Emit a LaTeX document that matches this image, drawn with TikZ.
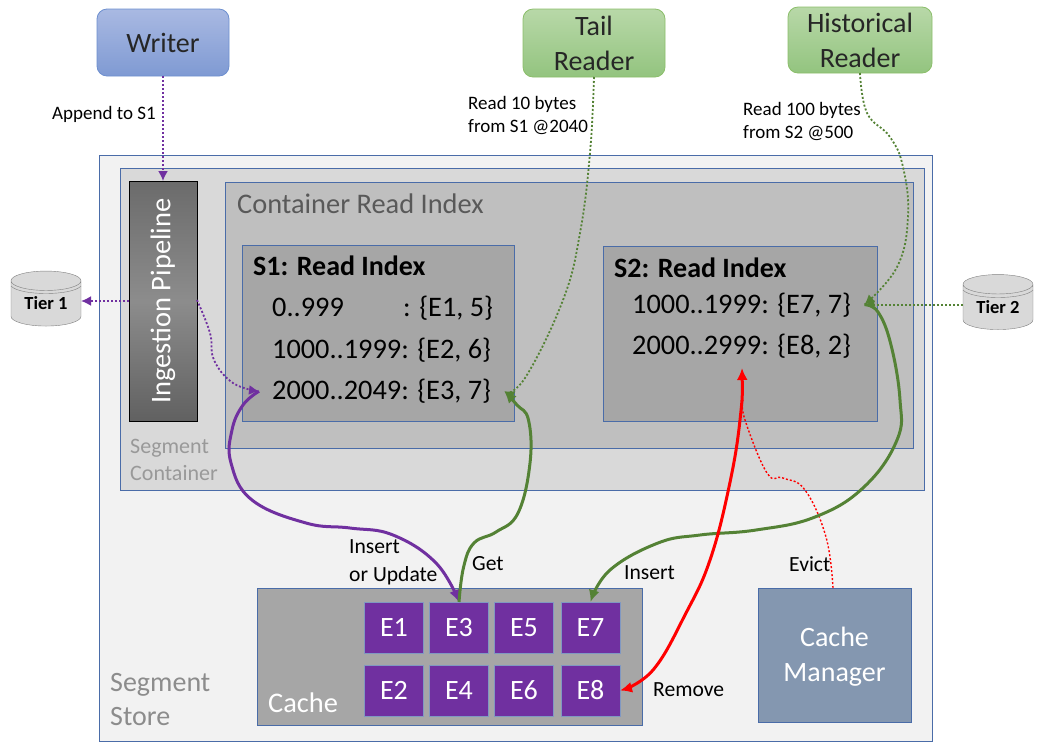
\documentclass[tikz,border=0pt]{standalone}
\usepackage{fontspec}
\setmainfont{Carlito}
\usetikzlibrary{positioning,shapes.geometric,arrows.meta}
\definecolor{frameblue}{HTML}{4A6CA8}
\definecolor{entrypurple}{HTML}{7030A0}
\definecolor{readgreen}{HTML}{548235}
\definecolor{writertop}{HTML}{A9B9E2}
\definecolor{writerbottom}{HTML}{7F9AD3}
\definecolor{writeredge}{HTML}{6D8FCF}
\definecolor{readertop}{HTML}{B8D8A8}
\definecolor{readerbottom}{HTML}{93C47F}
\definecolor{readeredge}{HTML}{8BBE6A}
\definecolor{managerblue}{HTML}{8497B0}
\tikzstyle{boxtext} = [font=\fontsize{28}{35}\selectfont,align=center]
\tikzstyle{smalltext} = [font=\fontsize{19}{23}\selectfont,align=left,anchor=west,inner sep=0]
\tikzstyle{flowtext} = [font=\fontsize{21.6}{27.5}\selectfont,align=left,anchor=west,inner sep=0]
\tikzstyle{region} = [draw=frameblue,line width=.8pt,inner sep=0,outer sep=0]
\tikzstyle{client} = [boxtext,text=black!85,rounded corners=10pt,inner sep=0,outer sep=0,line width=.8pt]
\tikzstyle{writerbox} = [client,draw=writeredge,top color=writertop,bottom color=writerbottom]
\tikzstyle{readerbox} = [client,draw=readeredge,top color=readertop,bottom color=readerbottom]
\tikzstyle{ecell} = [font=\fontsize{28}{35}\selectfont,text=white,fill=entrypurple,draw=frameblue!70,
                     minimum width=59pt,minimum height=51pt,inner sep=0,outer sep=0]
\tikzstyle{rowtext} = [font=\fontsize{28.3}{35}\selectfont,anchor=base west,inner xsep=13pt,inner ysep=0]
\tikzstyle{headtext} = [font=\fontsize{28.4}{35}\selectfont,anchor=base west,inner sep=0]
\tikzstyle{tier} = [cylinder,shape border rotate=90,aspect=.45,draw=gray,fill=gray!30,
                    minimum width=70pt,minimum height=55pt,inner sep=0,outer sep=0,
                    font=\fontsize{18.5}{22}\selectfont\bfseries]
\tikzstyle{dots} = [dash pattern=on 2pt off 2pt,line width=1.8pt,
                    >={Latex[length=10pt,width=10pt]}]
\tikzstyle{thick line} = [line width=3pt,>={Latex[length=12pt,width=11pt]}]

\begin{document}
\begin{tikzpicture}[
      x=1pt,
      y=-1pt,
      every plot/.style={smooth,tension=.7}]

     \useasboundingbox (0,0) rectangle (1040,748);

     \node[region,fill=gray!10,minimum width=833pt,minimum height=586pt] (store) at (515.5,448) {};
     \node[region,fill=gray!30,minimum width=804pt,minimum height=322pt] (container) at (522,329) {};
     \node[region,fill=gray!50,minimum width=688pt,minimum height=266pt] (readindex) at (569,315) {};
     \node[region,fill=gray!70,minimum width=272pt,minimum height=176pt] (sone) at (378,333) {};
     \node[region,fill=gray!70,minimum width=274pt,minimum height=175pt] (stwo) at (740,333.5) {};
     \node[draw=black,line width=.8pt,top color=black!58,bottom color=black!62,middle color=black!45,
           text=white,font=\fontsize{28.5}{35}\selectfont,inner sep=0,outer sep=0,
           minimum width=68pt,minimum height=240pt] (pipeline) at (163,301) {\rotatebox{90}{Ingestion Pipeline}};

     \node[writerbox,minimum width=132pt,minimum height=67pt] (writer) at (163,42.5) {Writer};
     \node[readerbox,minimum width=142pt,minimum height=68pt] (tail) at (594,43) {Tail\\Reader};
     \node[readerbox,minimum width=144pt,minimum height=66pt] (historical) at (860,40) {Historical\\Reader};

     \node[tier] (tierone) at (46,303.5) {\raisebox{-8pt}{Tier 1}};
     \node[tier] (tiertwo) at (998,307) {\raisebox{-8pt}{Tier 2}};
     \draw[gray] (11,286) .. controls (20,296) and (72,296) .. (81,286);
     \draw[gray] (963,290) .. controls (972,300) and (1024,300) .. (1033,290);

     \node[headtext,text=black!65] (readindexname) at (237,213) {Container Read Index};
     \node[headtext,font=\fontsize{28}{35}\selectfont\bfseries] (sonename) at (253,275) {S1: Read Index};
     \node[headtext,font=\fontsize{28}{35}\selectfont\bfseries] (stwoname) at (614,277) {S2: Read Index};
     \node[rowtext] (sonea) at (259,316) {\makebox[131pt][l]{0..999}: \{E1, 5\}};
     \node[rowtext] (soneb) at (259,358) {1000..1999: \{E2, 6\}};
     \node[rowtext] (sonec) at (259,399.5) {2000..2049: \{E3, 7\}};
     \node[rowtext] (stwoa) at (619,313) {1000..1999: \{E7, 7\}};
     \node[rowtext] (stwob) at (619,354) {2000..2999: \{E8, 2\}};

     \node[flowtext,font=\fontsize{22}{27}\selectfont,text=gray!80] (containername) at (130,459.5) {Segment\\Container};
     \node[flowtext,font=\fontsize{28}{34}\selectfont,text=gray!90] (storename) at (110,700) {Segment\\Store};

     \node[region,fill=gray!70,minimum width=385pt,minimum height=137pt] (cache) at (449.5,657) {};
     \node[headtext,text=white] (cachename) at (268,712) {Cache};
     \node[ecell] (eone) at (394,627.5) {E1};
     \node[ecell,right=6pt of eone] (ethree) {E3};
     \node[ecell,right=6pt of ethree] (efive) {E5};
     \node[ecell,right=7.5pt of efive] (eseven) {E7};
     \node[ecell,below=12pt of eone] (etwo) {E2};
     \node[ecell,right=6pt of etwo] (efour) {E4};
     \node[ecell,right=6pt of efour] (esix) {E6};
     \node[ecell,right=7.5pt of esix] (eeight) {E8};

     \node[region,boxtext,text=white,fill=managerblue,minimum width=153pt,minimum height=134pt] (manager) at (834.5,655) {\rule{0pt}{22pt}Cache\\Manager};

     \coordinate (evictend) at (743,400);
     \coordinate (removeend) at (742,368);

     \draw[->,dots,entrypurple] (writer) -- (pipeline);
     \draw[->,dots,entrypurple] (pipeline.west |- 0,301) -- (tierone.east |- 0,301);
     \draw[->,dots,entrypurple] plot coordinates {(pipeline.east |- 0,300) (210,333) (214,360) (233,383) (sonec.west)};
     \draw[->,dots,readgreen] plot coordinates {(tail.south) (590,153) (580,233) (563,300) (525,378) (sonec.east)};
     \draw[->,dots,readgreen] plot coordinates {(historical.south) (867,113) (890,137) (903,167) (908,217) (897,267) (stwoa.east)};
     \draw[->,dots,readgreen] (tiertwo.west |- stwoa.east) -- (stwoa.east);
     \draw[dots,line width=1.4pt,red] plot coordinates {(manager.north -| 833,0) (826,537) (805,490) (783,478) (767,473) (745,420) (evictend)};

     \draw[->,thick line,entrypurple] plot coordinates {(sonec.west) (243,405) (232,430) (231,463) (252,500) (306,523) (350,528) (393,535) (436,563) (ethree.north)};
     \draw[->,thick line,readgreen] plot coordinates {(ethree.north) (463.6,567) (474,543) (496,532) (518,513) (530,463) (528.5,420) (517,405) (sonec.east)};
     \draw[->,thick line,readgreen] plot coordinates {(stwoa.east) (878,312) (891,345) (900,400) (897,440) (864,487) (815,517) (756,530) (700,535) (658,543) (610,570) (eseven.north)};
     \draw[<->,thick line,red] plot coordinates {(removeend) (740,420) (729,487) (710,560) (686,613) (653,670) (eeight.east)};

     \node[smalltext] (appendtext) at (52,114) {Append to S1};
     \node[smalltext] (tailtext) at (468,115) {Read 10 bytes\\from S1 @2040};
     \node[smalltext] (historicaltext) at (743,121.5) {Read 100 bytes\\from S2 @500};
     \node[flowtext] (inserttext) at (349,562.5) {Insert\\or Update};
     \node[flowtext] (gettext) at (472,564) {Get};
     \node[flowtext] (insertseven) at (624,573) {Insert};
     \node[flowtext] (evicttext) at (789,564) {Evict};
     \node[flowtext] (removetext) at (653,690) {Remove};

\end{tikzpicture}
\end{document}
